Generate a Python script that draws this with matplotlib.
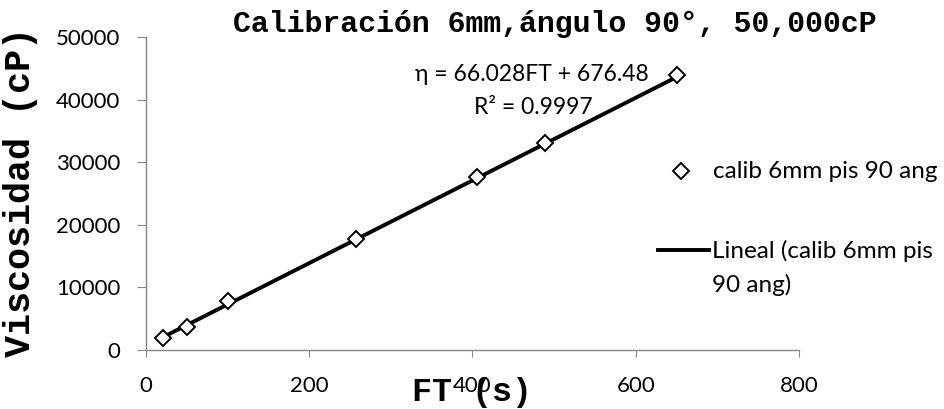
import matplotlib
matplotlib.use("Agg")
import matplotlib.pyplot as plt
from matplotlib.lines import Line2D

# Data
ft = [21, 50, 100, 257, 406, 489, 650]
visc = [1900, 3700, 7800, 17800, 27700, 33000, 43900]
slope = 66.028
intercept = 676.48
r2 = 0.9997
x_ticks = [0, 200, 400, 600, 800]
y_ticks = [0, 10000, 20000, 30000, 40000, 50000]

title = "Calibración 6mm,ángulo 90°, 50,000cP"
xlabel = "FT (s)"
ylabel = "Viscosidad (cP)"
series_name = "calib 6mm pis 90 ang"
trend_name_1 = "Lineal (calib 6mm pis"
trend_name_2 = "90 ang)"

sans = ["Lato", "DejaVu Sans"]
mono = ["Liberation Mono", "DejaVu Sans Mono"]

W, H = 945, 409
fig = plt.figure(figsize=(W/100, H/100), dpi=100)
ax = fig.add_axes([146/W, 1-350/H, (799-146)/W, (350-37)/H])

def fx(px):
    return px / W

def fy(py):
    return 1 - py / H

x0, x1 = min(ft), max(ft)
ax.plot([x0, x1], [slope*x0 + intercept, slope*x1 + intercept], color="black", lw=2.8, zorder=2)
ax.plot(ft, visc, linestyle="none", marker="D", markersize=8, markerfacecolor="white",
        markeredgecolor="black", markeredgewidth=1.4, zorder=3)

ax.set_xlim(0, 800)
ax.set_ylim(0, 50000)
ax.set_xticks(x_ticks)
ax.set_yticks(y_ticks)
ax.set_xticklabels([str(v) for v in x_ticks], fontfamily=sans, fontsize=16)
ax.set_yticklabels([str(v) for v in y_ticks], fontfamily=sans, fontsize=16)

for s in ["top", "right"]:
    ax.spines[s].set_visible(False)
for s in ["left", "bottom"]:
    ax.spines[s].set_color("#868686")
    ax.spines[s].set_linewidth(1.0)
ax.tick_params(axis="x", direction="out", length=5, color="#868686", pad=14)
ax.tick_params(axis="y", direction="out", length=6.5, color="#868686", pad=12)

fig.text(fx(555), fy(24), title, ha="center", va="center", fontfamily=mono,
         fontweight="bold", fontsize=21.5)
fig.text(fx(472), fy(392), xlabel, ha="center", va="center", fontfamily=mono,
         fontweight="bold", fontsize=24)
fig.text(fx(21), fy(192), ylabel, ha="center", va="center", rotation=90,
         fontfamily=mono, fontweight="bold", fontsize=26.5)

ax.text(473, 43930, f"η = {slope}FT + {intercept}", ha="center", va="center",
        fontfamily=sans, fontsize=16.5)
ax.text(475, 38660, f"R² = {r2}", ha="center", va="center",
        fontfamily=sans, fontsize=16.5)

# Legend (Excel-style, drawn in figure coordinates)
fig.add_artist(Line2D([fx(681)], [fy(171)], linestyle="none", marker="D", markersize=8,
                      markerfacecolor="white", markeredgecolor="black", markeredgewidth=1.4))
fig.text(fx(713), fy(171), series_name, ha="left", va="center", fontfamily=sans, fontsize=17.5)
fig.add_artist(Line2D([fx(658), fx(709)], [fy(250), fy(250)], color="black", lw=2.8))
fig.text(fx(712), fy(251), trend_name_1, ha="left", va="center", fontfamily=sans, fontsize=17.5)
fig.text(fx(712), fy(285), trend_name_2, ha="left", va="center", fontfamily=sans, fontsize=17.5)

fig.savefig("out.png", dpi=100)
